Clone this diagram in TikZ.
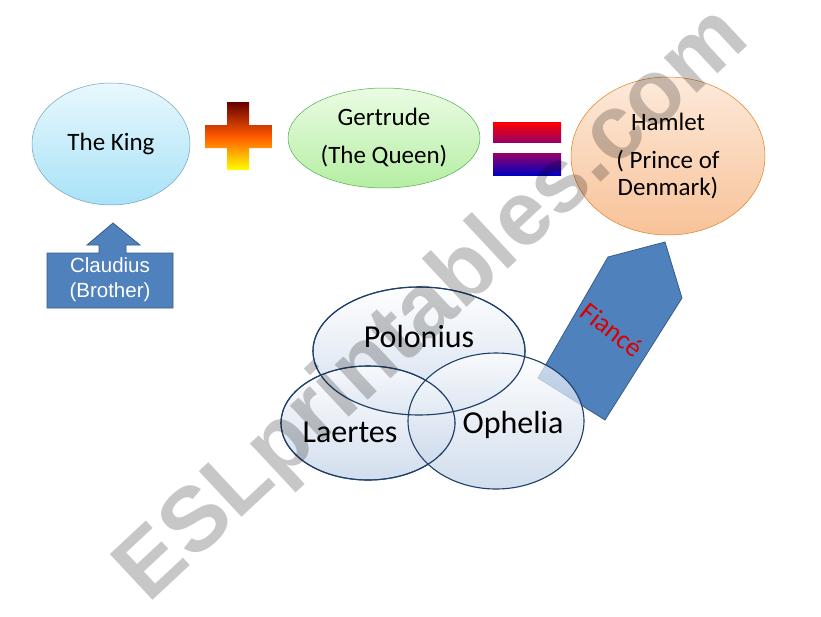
\documentclass[tikz,border=0pt]{standalone}
\usepackage{fontspec}
\setmainfont{Carlito}
\newfontfamily\arialf{Liberation Sans}
\usetikzlibrary{shapes.geometric}
\definecolor{shapeblue}{HTML}{4F81BD}
\definecolor{shapeedge}{HTML}{385D8A}
\definecolor{venedge}{HTML}{1F3F6A}
\definecolor{kingtop}{HTML}{E8F8FE}
\definecolor{kingbot}{HTML}{A8E2F7}
\definecolor{gertop}{HTML}{EBFCE4}
\definecolor{gerbot}{HTML}{B5EEA2}
\definecolor{hamtop}{HTML}{FDEADB}
\definecolor{hambot}{HTML}{F8C298}
\definecolor{venbot}{HTML}{BFD0E6}
\tikzset{
  oval/.style={ellipse, inner sep=0pt, align=center, text=black},
  venn/.style={ellipse, inner sep=0pt, draw=venedge, line width=1.1pt,
     top color=white, bottom color=venbot, fill opacity=0.7},
  vlabel/.style={font=\fontsize{32}{34}\selectfont, text=black},
  bluefig/.style={fill=shapeblue, draw=shapeedge, line width=0.8pt},
  wmark/.style={font=\arialf\bfseries\fontsize{91}{93}\selectfont, text=black, text opacity=0.22}
}
\begin{document}
\begin{tikzpicture}[x=1pt,y=-1pt]
\useasboundingbox (0,0) rectangle (821,616);
\fill[white] (0,0) rectangle (821,616);

% The King
\node[oval, minimum width=158pt, minimum height=122pt, draw=gray!60!cyan, line width=0.5pt,
      top color=kingtop, bottom color=kingbot,
      font=\fontsize{25}{27}\selectfont] (king) at (111,144) {The King};

% plus sign
\shade[top color=black!60!red, bottom color=yellow, middle color=orange!70!red] 
  (227,102) -- (249,102) -- (249,125) -- (272,125) -- (272,148) -- (249,148)
  -- (249,170) -- (227,170) -- (227,148) -- (205,148) -- (205,125) -- (227,125) -- cycle;
\coordinate (plus) at (238,136);

% Gertrude
\node[oval, minimum width=192pt, minimum height=100pt, draw=gray!60!green, line width=0.5pt,
      top color=gertop, bottom color=gerbot,
      font=\fontsize{25}{25}\selectfont] (gertrude) at (384,138) {Gertrude\\[13pt](The Queen)};

% equals sign
\shade[top color=red, bottom color=red!60!blue] (493,122) rectangle (561,142);
\shade[top color=violet!80!red, bottom color=blue!75!black] (493,153) rectangle (561,175);
\coordinate (equals) at (527,148);

% Hamlet
\node[oval, minimum width=194pt, minimum height=158pt, draw=orange!50!brown, line width=0.5pt,
      top color=hamtop, bottom color=hambot,
      font=\fontsize{25}{27}\selectfont] (hamlet) at (668,156) {Hamlet\\[11pt]( Prince of\\Denmark)};

% Claudius up-arrow callout
\draw[bluefig] (47,253) -- (99,253) -- (99,245) -- (87,245) -- (113,223) -- (140,245)
  -- (126,245) -- (126,253) -- (173,253) -- (173,308) -- (47,308) -- cycle;
\node[font=\arialf\fontsize{20.5}{25}\selectfont, text=white, align=center] (claudius) at (110,280) {Claudius\\(Brother)};

% Fiance arrow
\draw[bluefig] (538,378) -- (608,257) -- (665,242) -- (682,298) -- (605,420) -- cycle;
\node[font=\fontsize{27}{29}\selectfont, text=red!85!black, rotate=-38] (fiance) at (612,330) {Fianc\'e};

% Venn
\node[venn, minimum width=212pt, minimum height=128pt] (polonius) at (419,351) {};
\node[venn, minimum width=174pt, minimum height=114pt] (laertes) at (368,423) {};
\node[venn, minimum width=176pt, minimum height=136pt] (ophelia) at (496,421) {};
\draw[venedge, line width=1.1pt] (polonius.center) ellipse (106pt and 64pt);
\draw[venedge, line width=1.1pt] (laertes.center) ellipse (87pt and 57pt);
\node[vlabel] (tpol) at (419,337) {Polonius};
\node[vlabel] (tlae) at (350,432) {Laertes};
\node[vlabel] (toph) at (513,425) {Ophelia};

% watermark
\node[wmark, rotate=43] (wm) at (434,306) {ESLprintables.com};
\end{tikzpicture}
\end{document}
